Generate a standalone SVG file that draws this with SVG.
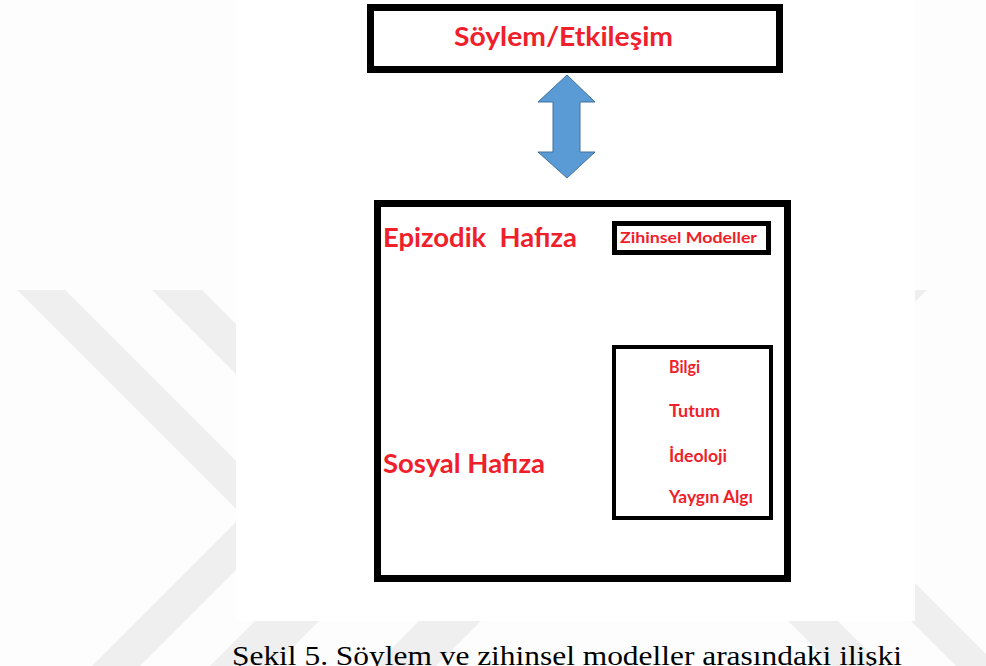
<svg xmlns="http://www.w3.org/2000/svg" width="986" height="666" viewBox="0 0 986 666">
<style>
.box{fill:#ffffff;stroke:#000000}
.lbl{font-family:Lato,"Open Sans","Liberation Sans",sans-serif;font-weight:bold;fill:#f0202a;white-space:pre}
.arr{fill:#5b9bd5;stroke:#41719c;stroke-width:1}
.wm{fill:#efefef}
.cap{font-family:"Liberation Serif","Times New Roman",serif;font-size:28px;fill:#000000}
</style>
<rect x="0" y="0" width="986" height="666" fill="#fdfdfd"/>
<g id="watermark">
<polygon class="wm" points="17,290 65,290 290.5,515.5 140,666 92,666 242.5,515.5"/>
<polygon class="wm" points="152,290 202,290 320,408 270,408"/>
<polygon class="wm" points="256,620 320,620 274,666 210,666"/>
<polygon class="wm" points="420,620 482,620 436,666 374,666"/>
<polygon class="wm" points="787,620 837,620 883,666 833,666"/>
<polygon class="wm" points="880,548 1000,668 1000,710 880,590"/>
<polygon class="wm" points="880,290 927,290 880,337"/>
</g>
<rect x="236" y="0" width="679" height="621" fill="#ffffff"/>
<g id="connectors">
<path id="arrow-top" class="arr" d="M567,75 L595,102 L580,102 L580,152 L595,152 L567,178 L538,152 L553,152 L553,102 L538,102 Z"/>
<path id="arrow-inner" class="arr" d="M692,258 L715,283 L703,283 L703,319 L715,319 L692,343 L669,319 L682,319 L682,283 L669,283 Z"/>
</g>
<g id="node-soylem">
<rect class="box" x="370.5" y="7.5" width="409" height="62" stroke-width="7"/>
<text class="lbl" x="454" y="46" font-size="26" textLength="219" lengthAdjust="spacingAndGlyphs">Söylem/Etkileşim</text>
</g>
<g id="node-hafiza">
<rect class="box" x="377.5" y="203.5" width="410" height="375" stroke-width="7"/>
<text class="lbl" x="383" y="247" font-size="26" textLength="194" lengthAdjust="spacingAndGlyphs">Epizodik  Hafıza</text>
<text class="lbl" x="383" y="473" font-size="26" textLength="162" lengthAdjust="spacingAndGlyphs">Sosyal Hafıza</text>
</g>
<g id="node-zihinsel">
<rect class="box" x="614.5" y="223.5" width="154" height="29" stroke-width="5"/>
<text class="lbl" x="620" y="243" font-size="16" textLength="137" lengthAdjust="spacingAndGlyphs">Zihinsel Modeller</text>
</g>
<g id="node-sosyal">
<rect class="box" x="614" y="347" width="157" height="171" stroke-width="4"/>
<text class="lbl" x="669" y="373" font-size="16.5" textLength="31" lengthAdjust="spacingAndGlyphs">Bilgi</text>
<text class="lbl" x="669" y="417" font-size="16.5" textLength="51" lengthAdjust="spacingAndGlyphs">Tutum</text>
<text class="lbl" x="669" y="462" font-size="16.5" textLength="58" lengthAdjust="spacingAndGlyphs">İdeoloji</text>
<text class="lbl" x="669" y="503" font-size="16.5" textLength="84" lengthAdjust="spacingAndGlyphs">Yaygın Algı</text>
</g>
<text class="cap" x="232" y="665" textLength="670" lengthAdjust="spacingAndGlyphs">Şekil 5. Söylem ve zihinsel modeller arasındaki ilişki</text>
</svg>
